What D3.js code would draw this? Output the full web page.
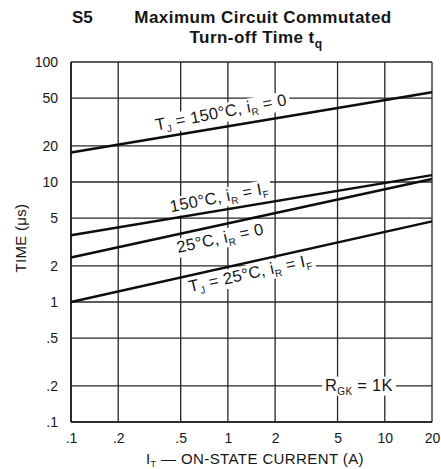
<!DOCTYPE html>
<html>
<head>
<meta charset="utf-8">
<script src="https://cdn.jsdelivr.net/npm/d3@7/dist/d3.min.js"></script>
<style>
  html, body { margin: 0; padding: 0; background: #fff; }
  svg { display: block; }
  text { font-family: "Liberation Sans", Arial, Helvetica, sans-serif; fill: #161616; }
</style>
</head>
<body>
<svg id="chart" width="441" height="469"></svg>
<script>
// Current (A) at the ends of each characteristic
const currentEnds = [0.1, 20];
// Turn-off time (µs) at 0.1 A and 20 A for each condition
const tj150ir0 = [17.6, 56];
const tj150irIf = [3.6, 11.4];
const tj25ir0 = [2.35, 10.6];
const tj25irIf = [1.0, 4.7];

const xTicks = [0.1, 0.2, 0.5, 1, 2, 5, 10, 20];
const xTickLabels = [".1", ".2", ".5", "1", "2", "5", "10", "20"];
const yTicks = [0.1, 0.2, 0.5, 1, 2, 5, 10, 20, 50, 100];
const yTickLabels = [".1", ".2", ".5", "1", "2", "5", "10", "20", "50", "100"];

const svg = d3.select("#chart");
const plotL = 71, plotR = 432, plotT = 62, plotB = 422;

const x = d3.scaleLog().domain([0.1, 20]).range([plotL, plotR]);
const y = d3.scaleLog().domain([0.1, 100]).range([plotB, plotT]);

// Title
svg.append("text").attr("x", 72).attr("y", 23)
  .style("font-size", "17px").style("font-weight", "bold").text("S5");
svg.append("text").attr("x", 263).attr("y", 23).attr("text-anchor", "middle")
  .style("font-size", "17px").style("font-weight", "bold").style("letter-spacing", "0.45px")
  .text("Maximum Circuit Commutated");
const t2 = svg.append("text").attr("x", 256).attr("y", 43).attr("text-anchor", "middle")
  .style("font-size", "17px").style("font-weight", "bold").style("letter-spacing", "0.45px");
t2.append("tspan").text("Turn-off Time t");
t2.append("tspan").attr("dy", 5).style("font-size", "12px").text("q");

// Grid
const grid = svg.append("g").attr("stroke", "#262626").attr("stroke-width", 1.3);
grid.selectAll("line.v").data(xTicks).join("line").attr("class", "v")
  .attr("x1", d => x(d)).attr("x2", d => x(d)).attr("y1", plotT).attr("y2", plotB);
grid.selectAll("line.h").data(yTicks).join("line").attr("class", "h")
  .attr("x1", plotL).attr("x2", plotR).attr("y1", d => y(d)).attr("y2", d => y(d));

// Axis frame emphasised on left and bottom
svg.append("line").attr("x1", plotL).attr("x2", plotL).attr("y1", plotT).attr("y2", plotB)
  .attr("stroke", "#1e1e1e").attr("stroke-width", 1.7);
svg.append("line").attr("x1", plotL).attr("x2", plotR).attr("y1", plotB).attr("y2", plotB)
  .attr("stroke", "#1e1e1e").attr("stroke-width", 1.7);

// Tick labels
const xAxis = d3.axisBottom(x).tickValues(xTicks)
  .tickFormat((d, i) => xTickLabels[i]).tickSize(0).tickPadding(11);
const gx = svg.append("g").attr("transform", `translate(0,${plotB})`).call(xAxis);
gx.select(".domain").remove();
gx.selectAll("text").style("font-size", "14px").attr("fill", "#161616");

const yAxis = d3.axisLeft(y).tickValues(yTicks)
  .tickFormat((d, i) => yTickLabels[i]).tickSize(0).tickPadding(13);
const gy = svg.append("g").attr("transform", `translate(${plotL},0)`).call(yAxis);
gy.select(".domain").remove();
gy.selectAll("text").style("font-size", "14px").attr("fill", "#161616");

// Axis titles
const xt = svg.append("text").attr("x", 255).attr("y", 464).attr("text-anchor", "middle")
  .style("font-size", "15px").style("letter-spacing", "0.4px");
xt.append("tspan").text("I");
xt.append("tspan").attr("dy", 3).style("font-size", "9px").text("T");
xt.append("tspan").attr("dy", -3).text(" \u2014 ON-STATE CURRENT (A)");

svg.append("text").attr("transform", "translate(26,238) rotate(-90)")
  .attr("text-anchor", "middle").style("font-size", "15px").style("letter-spacing", "0.3px")
  .text("TIME (\u03bcs)");

// Curve labels: white knockout behind text, rotated to the curve direction
function angleOf(vals) {
  const dx = x(currentEnds[1]) - x(currentEnds[0]);
  const dy = y(vals[1]) - y(vals[0]);
  return Math.atan2(dy, dx) * 180 / Math.PI;
}

function curveLabel(cx, cy, angle, parts) {
  const g = svg.append("g").attr("transform", `translate(${cx},${cy}) rotate(${angle})`);
  const bg = g.append("rect").attr("fill", "#fff");
  const t = g.append("text").attr("text-anchor", "middle").attr("dy", "0.35em")
    .style("font-size", "16.5px").style("letter-spacing", "0.3px");
  parts.forEach(p => {
    const s = t.append("tspan").text(p.t);
    if (p.sub) s.attr("dy", 4).style("font-size", "10px");
    if (p.up) s.attr("dy", -4);
  });
  const b = t.node().getBBox();
  bg.attr("x", b.x - 3).attr("y", b.y + 1).attr("width", b.width + 6).attr("height", b.height - 2);
  return g;
}

// Characteristic lines
const line = d3.line().x(d => x(d[0])).y(d => y(d[1]));
const series = [tj150ir0, tj150irIf, tj25ir0, tj25irIf];

curveLabel(221, 112, angleOf(tj150ir0) - 1.5, [
  {t: "T"}, {t: "J", sub: true}, {t: " = 150\u00b0C, i", up: true}, {t: "R", sub: true}, {t: " = 0", up: true}
]);
curveLabel(219, 197, angleOf(tj150irIf) - 1.5, [
  {t: "150\u00b0C, i"}, {t: "R", sub: true}, {t: " = I", up: true}, {t: "F", sub: true}
]);
curveLabel(220, 238, angleOf(tj25ir0), [
  {t: "25\u00b0C, i"}, {t: "R", sub: true}, {t: " = 0", up: true}
]);
curveLabel(250, 273, angleOf(tj25irIf), [
  {t: "T"}, {t: "J", sub: true}, {t: " = 25\u00b0C, i", up: true}, {t: "R", sub: true}, {t: " = I", up: true}, {t: "F", sub: true}
]);
curveLabel(359, y(0.2) - 1, 0, [
  {t: "R"}, {t: "GK", sub: true}, {t: " = 1K", up: true}
]);

svg.append("g").selectAll("path").data(series).join("path")
  .attr("d", v => line([[currentEnds[0], v[0]], [currentEnds[1], v[1]]]))
  .attr("fill", "none").attr("stroke", "#0d0d0d").attr("stroke-width", 2.4);
</script>
</body>
</html>
